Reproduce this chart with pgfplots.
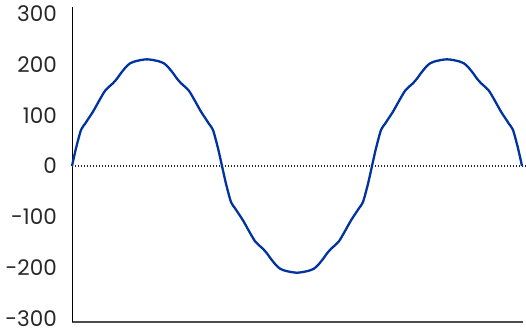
\documentclass[border=0pt]{standalone}
\usepackage{pgfplots}
\pgfplotsset{compat=1.18}
\usepackage{fontspec}
\setmainfont{Poppins}
\definecolor{wave}{RGB}{0,51,160}
\definecolor{txt}{RGB}{40,40,40}
\begin{document}
\begin{tikzpicture}
\begin{axis}[
  name=ax,
  scale only axis,
  width=451pt, height=315pt,
  xmin=0, xmax=451,
  ymin=-307, ymax=313,
  axis x line=bottom, axis y line=left,
  axis line style={-},
  x axis line style={draw=black!70, line width=1.3pt},
  y axis line style={draw=black, line width=0.9pt},
  xtick=\empty,
  ytick={-300,-200,-100,0,100,200,300},
  major tick length=0pt,
  /pgf/number format/assume math mode=true,
  yticklabel style={font=\fontsize{21.5}{25}\selectfont, text=txt, anchor=east, inner sep=0pt, xshift=-15pt},
  clip=false,
]
\addplot[black!85, line width=1.4pt, dash pattern=on 1.3pt off 1.7pt] coordinates {(0,0) (454,0)};
\addplot[wave, line width=2.3pt, smooth, tension=0.4] coordinates {
(0,0) (4,35) (9,71) (13,83) (17,95) (21,107) (25,121) (29,135) (33,148) (37,156) (41,163) (45,172) (49,183) (54,195) (58,202) (63,206) (70,209) (75,210) (80,209) (87,206) (92,202) (96,195) (101,183) (105,172) (109,163) (113,156) (117,148) (121,135) (125,121) (129,107) (133,95) (137,83) (141,71) (146,35) (150,0)
(154,-35) (159,-71) (163,-83) (167,-95) (171,-107) (175,-121) (179,-135) (183,-148) (187,-156) (191,-163) (195,-172) (199,-183) (204,-195) (208,-202) (213,-206) (220,-209) (225,-210) (230,-209) (237,-206) (242,-202) (246,-195) (251,-183) (255,-172) (259,-163) (263,-156) (267,-148) (271,-135) (275,-121) (279,-107) (283,-95) (287,-83) (291,-71) (296,-35) (300,0)
(304,35) (309,71) (313,83) (317,95) (321,107) (325,121) (329,135) (333,148) (337,156) (341,163) (345,172) (349,183) (354,195) (358,202) (363,206) (370,209) (375,210) (380,209) (387,206) (392,202) (396,195) (401,183) (405,172) (409,163) (413,156) (417,148) (421,135) (425,121) (429,107) (433,95) (437,83) (441,71) (446,35) (450,0)
};
\end{axis}
\pgfresetboundingbox
\path[use as bounding box] ([shift={(-72pt,-11pt)}]ax.south west) rectangle ([shift={(3pt,7pt)}]ax.north east);
\end{tikzpicture}
\end{document}
